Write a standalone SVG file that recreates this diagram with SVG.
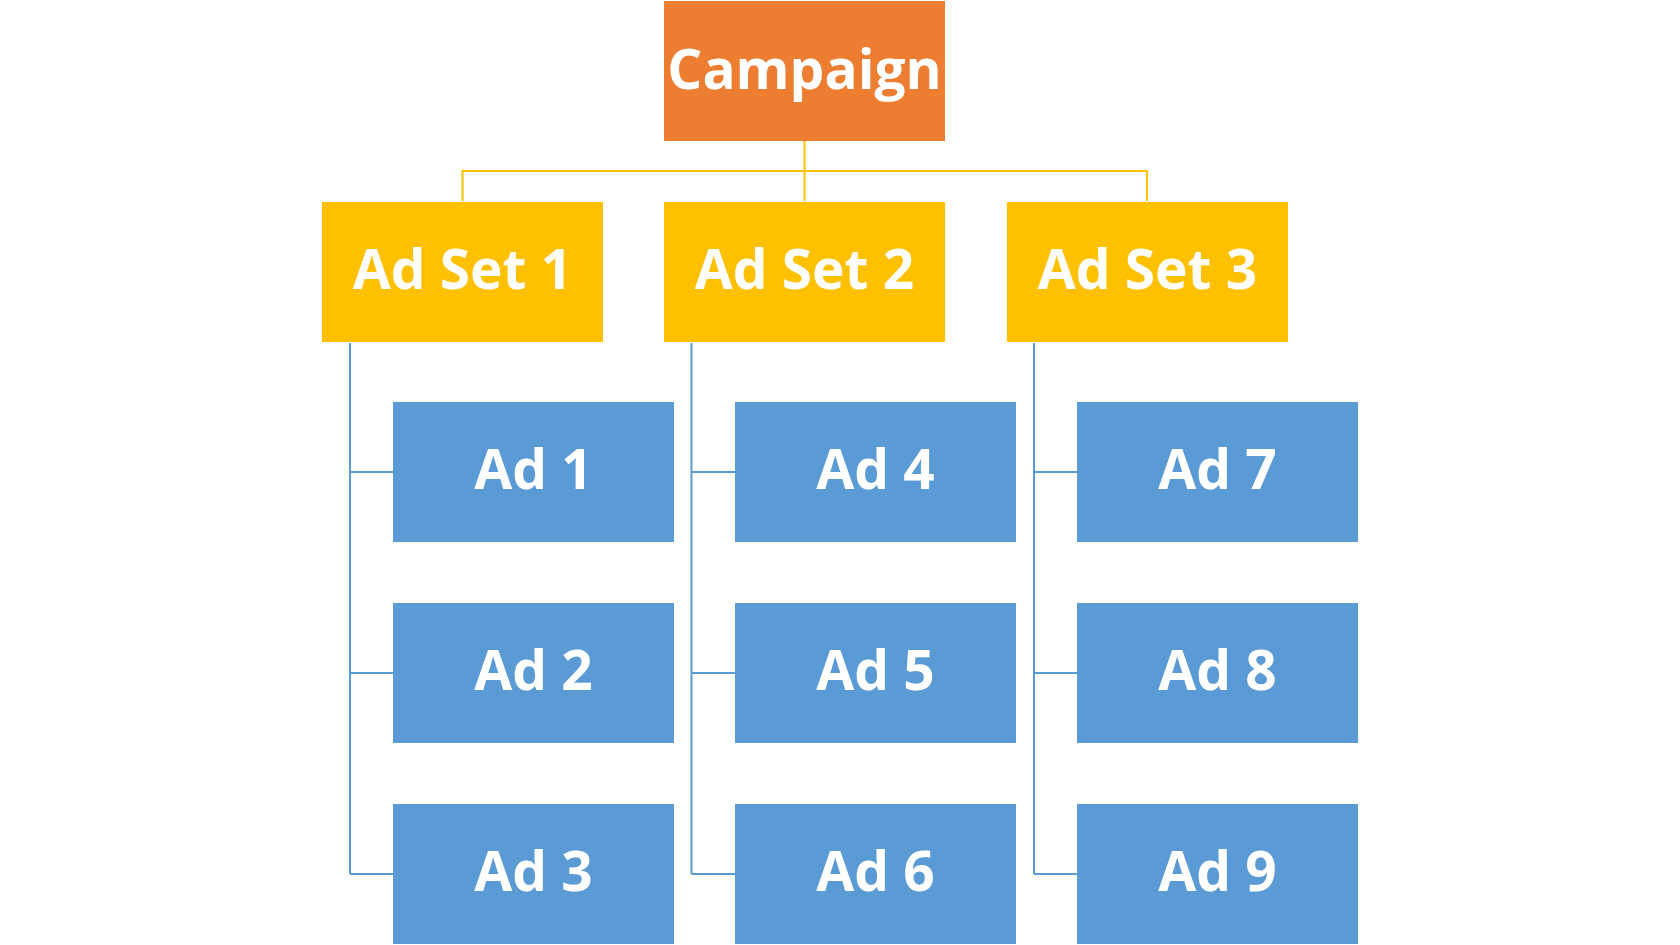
<svg xmlns="http://www.w3.org/2000/svg" width="1680" height="945" viewBox="0 0 1680 945">
<style>
.lbl{font-family:"Open Sans","Liberation Sans",sans-serif;font-weight:700;font-size:55px;fill:#fff;text-anchor:middle}
.camp{fill:#ED7D31}
.set{fill:#FFC000}
.ad{fill:#5B9BD5}
.cy{stroke:#FFC000;stroke-width:2;fill:none}
.cb{stroke:#5B9BD5;stroke-width:2;fill:none}
</style>
<rect width="1680" height="945" fill="#fff"/>
<g id="connectors">
<path class="cy" d="M804.5 141V201M462.5 201V171H1147V201"/>
<path class="cb" d="M350 343V874M350 472H393M350 673H393M350 874H393"/>
<path class="cb" d="M691.5 343V874M691.5 472H735M691.5 673H735M691.5 874H735"/>
<path class="cb" d="M1034 343V874M1034 472H1077M1034 673H1077M1034 874H1077"/>
</g>
<g id="campaign"><rect class="camp" x="664" y="1" width="281" height="140"/><text class="lbl" x="804.5" y="89">Campaign</text></g>
<g id="adset1"><rect class="set" x="322" y="202" width="281" height="140"/><text class="lbl" x="462.5" y="289">Ad Set 1</text></g>
<g id="adset2"><rect class="set" x="664" y="202" width="281" height="140"/><text class="lbl" x="804.5" y="289">Ad Set 2</text></g>
<g id="adset3"><rect class="set" x="1007" y="202" width="281" height="140"/><text class="lbl" x="1147.5" y="289">Ad Set 3</text></g>
<g id="ad1"><rect class="ad" x="393" y="402" width="281" height="140"/><text class="lbl" x="533.5" y="489">Ad 1</text></g>
<g id="ad2"><rect class="ad" x="393" y="603" width="281" height="140"/><text class="lbl" x="533.5" y="690">Ad 2</text></g>
<g id="ad3"><rect class="ad" x="393" y="804" width="281" height="140"/><text class="lbl" x="533.5" y="891">Ad 3</text></g>
<g id="ad4"><rect class="ad" x="735" y="402" width="281" height="140"/><text class="lbl" x="875.5" y="489">Ad 4</text></g>
<g id="ad5"><rect class="ad" x="735" y="603" width="281" height="140"/><text class="lbl" x="875.5" y="690">Ad 5</text></g>
<g id="ad6"><rect class="ad" x="735" y="804" width="281" height="140"/><text class="lbl" x="875.5" y="891">Ad 6</text></g>
<g id="ad7"><rect class="ad" x="1077" y="402" width="281" height="140"/><text class="lbl" x="1217.5" y="489">Ad 7</text></g>
<g id="ad8"><rect class="ad" x="1077" y="603" width="281" height="140"/><text class="lbl" x="1217.5" y="690">Ad 8</text></g>
<g id="ad9"><rect class="ad" x="1077" y="804" width="281" height="140"/><text class="lbl" x="1217.5" y="891">Ad 9</text></g>
</svg>
